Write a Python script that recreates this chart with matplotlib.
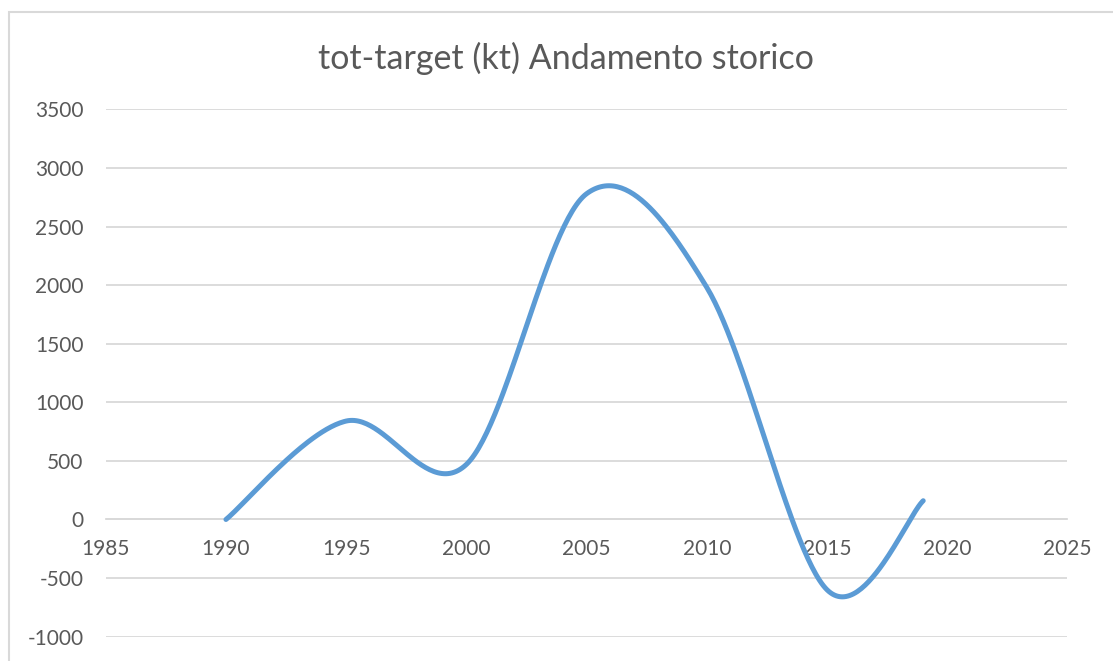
import numpy as np
import matplotlib.pyplot as plt
from matplotlib.patches import Rectangle

# data
years = [1990, 1995, 2000, 2005, 2010, 2015, 2019]
values = [0, 840, 470, 2780, 1980, -600, 160]

title = "tot-target (kt) Andamento storico"
x_ticks = [1985, 1990, 1995, 2000, 2005, 2010, 2015, 2020, 2025]
y_ticks = [-1000, -500, 0, 500, 1000, 1500, 2000, 2500, 3000, 3500]

plt.rcParams['font.family'] = ['Lato', 'DejaVu Sans']
plt.rcParams['axes.unicode_minus'] = False
grey = '#595959'


def excel_smooth(xs, ys, n=60):
    # Bezier smoothing the way spreadsheet "smoothed line" charts do it
    p = np.column_stack([xs, ys]).astype(float)
    out = []
    for i in range(len(p) - 1):
        prev = p[i - 1] if i > 0 else p[i]
        nxt = p[i + 2] if i + 2 < len(p) else p[i + 1]
        c1 = p[i] + (p[i + 1] - prev) / 6
        c2 = p[i + 1] - (nxt - p[i]) / 6
        t = np.linspace(0, 1, n)[:, None]
        seg = ((1 - t) ** 3 * p[i] + 3 * (1 - t) ** 2 * t * c1
               + 3 * (1 - t) * t ** 2 * c2 + t ** 3 * p[i + 1])
        out.append(seg if i == 0 else seg[1:])
    out = np.vstack(out)
    return out[:, 0], out[:, 1]


fig = plt.figure(figsize=(11.13, 6.61), dpi=100)
ax = fig.add_axes([0.0950, 0.0368, 0.8641, 0.7978])

# chart-area border
fig.patches.append(Rectangle((9 / 1113, -0.1), 1.2, 1 - 11.7 / 661 + 0.1,
                             transform=fig.transFigure, fill=False,
                             edgecolor='#d9d9d9', linewidth=1.5))

sx, sy = excel_smooth(years, values)
ax.plot(sx, sy, color='#5b9bd5', linewidth=3.6, solid_capstyle='round', zorder=3)

ax.set_xlim(1985, 2025)
ax.set_ylim(-1000, 3500)
ax.set_yticks(y_ticks)
ax.set_xticks(x_ticks)
ax.yaxis.grid(True, color='#d9d9d9', linewidth=1.3)
ax.set_axisbelow(True)
for s in ['top', 'right', 'left']:
    ax.spines[s].set_visible(False)
ax.spines['bottom'].set_position(('data', 0))
ax.spines['bottom'].set_color('#d9d9d9')
ax.spines['bottom'].set_linewidth(1.3)
ax.tick_params(axis='both', length=0, labelsize=15, labelcolor=grey)
ax.tick_params(axis='y', pad=16)
ax.tick_params(axis='x', pad=14)

fig.text(0.5085, 1 - 69.3 / 661, title, ha='center', va='baseline',
         fontsize=24.5, color=grey)

fig.savefig('out.png', dpi=100)
